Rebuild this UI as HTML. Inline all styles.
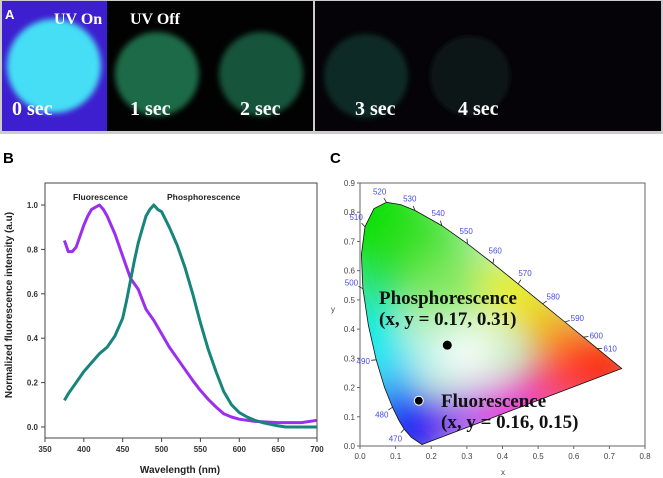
<!DOCTYPE html>
<html><head><meta charset="utf-8"><style>
body{margin:0;background:#fff;width:663px;height:478px;overflow:hidden;font-family:"Liberation Sans",Arial,sans-serif}
svg{position:absolute;left:0;top:0}
</style></head><body>
<svg width="663" height="478" viewBox="0 0 663 478">
<defs>
<filter id="blur" x="-50%" y="-50%" width="200%" height="200%"><feGaussianBlur stdDeviation="3"/></filter>
<filter id="bigblur" x="-50%" y="-50%" width="200%" height="200%"><feGaussianBlur stdDeviation="20"/></filter>
<clipPath id="gamutClip"><path id="gclip"/></clipPath>
</defs>
<g>
<rect x="0" y="0" width="663" height="134" fill="#ccc"/>
<rect x="2" y="1" width="105" height="130" fill="#3d1fcf"/>
<rect x="107" y="1" width="206" height="130" fill="#020202"/>
<rect x="315" y="1" width="346" height="130" fill="#050307"/>
<circle cx="54" cy="66" r="47" fill="#45def5" filter="url(#blur)"/>
<circle cx="157" cy="74" r="42" fill="#1d6a46" filter="url(#blur)"/>
<circle cx="261" cy="74" r="42" fill="#16543a" filter="url(#blur)"/>
<circle cx="366" cy="76" r="42" fill="#102a26" filter="url(#blur)"/>
<circle cx="470" cy="76" r="40" fill="#0c1817" filter="url(#blur)"/>
<g font-family="Liberation Serif,serif" font-weight="bold" fill="#fff">
<text x="5" y="19" font-family="Liberation Sans,sans-serif" font-size="13">A</text>
<text x="54" y="24" font-size="16">UV On</text>
<text x="130" y="24" font-size="16">UV Off</text>
<text x="12" y="115" font-size="20">0 sec</text>
<text x="130" y="115" font-size="20">1 sec</text>
<text x="240" y="115" font-size="20">2 sec</text>
<text x="355" y="115" font-size="20">3 sec</text>
<text x="458" y="115" font-size="20">4 sec</text>
</g>
</g>
<g id="panelB">
<text x="3" y="163" font-size="15" font-weight="bold">B</text>
<rect x="45" y="183" width="272" height="255" fill="none" stroke="#444" stroke-width="1"/>
<text x="73" y="200" font-size="8.5" font-weight="bold" fill="#222">Fluorescence</text>
<text x="167" y="200" font-size="8.5" font-weight="bold" fill="#222">Phosphorescence</text>
<text x="180" y="473" font-size="10" font-weight="bold" fill="#222" text-anchor="middle">Wavelength (nm)</text>
<text transform="translate(12,305) rotate(-90)" font-size="10" font-weight="bold" fill="#222" text-anchor="middle">Normalized fluorescence intensity (a.u)</text>
</g>
<g id="panelC">
<text x="330" y="163" font-size="15" font-weight="bold">C</text>
<g clip-path="url(#gamutClip)">
<rect x="360" y="183" width="285" height="263" fill="#c0f0c0"/>
<g filter="url(#bigblur)" id="blobs"></g>
</g>
<path id="locus" fill="none" stroke="#111" stroke-width="0.8"/>
<rect x="360" y="183" width="285" height="263" fill="none" stroke="#666" stroke-width="1"/>
<text x="503" y="475" font-size="8" fill="#444" text-anchor="middle">x</text>
<text x="331" y="312" font-size="8" fill="#444">y</text>
<g font-family="Liberation Serif,serif" font-weight="bold" fill="#111">
<text x="379" y="304" font-size="19">Phosphorescence</text>
<text x="379" y="325" font-size="19">(x, y = 0.17, 0.31)</text>
<text x="441" y="407" font-size="19">Fluorescence</text>
<text x="441" y="428" font-size="19">(x, y = 0.16, 0.15)</text>
</g>
</g>
</svg>
<script>
const NS='http://www.w3.org/2000/svg';
function mk(tag,attrs,parent){const e=document.createElementNS(NS,tag);for(const k in attrs)e.setAttribute(k,attrs[k]);parent.appendChild(e);return e;}
const xTicksB=[350,400,450,500,550,600,650,700];
const yTicksB=[0.0,0.2,0.4,0.6,0.8,1.0];
const fluorWl=[375,380,385,390,395,400,405,410,415,420,425,430,440,450,460,470,480,490,500,510,520,530,540,550,560,570,580,590,600,620,650,680,700];
const fluorVal=[0.84,0.79,0.79,0.81,0.86,0.91,0.95,0.98,0.99,1.0,0.98,0.95,0.87,0.77,0.67,0.62,0.53,0.48,0.42,0.36,0.31,0.26,0.21,0.165,0.125,0.09,0.06,0.045,0.035,0.025,0.02,0.02,0.03];
const phosWl=[375,380,390,400,410,420,430,440,450,455,460,465,470,475,480,485,490,495,500,510,520,530,540,550,560,570,580,590,600,610,620,630,650,660,700];
const phosVal=[0.12,0.15,0.2,0.25,0.29,0.33,0.36,0.41,0.49,0.57,0.66,0.75,0.83,0.89,0.95,0.98,1.0,0.98,0.97,0.9,0.82,0.72,0.6,0.47,0.35,0.25,0.16,0.1,0.065,0.045,0.03,0.02,0.005,0.0,0.0];
const bx=v=>45+(v-350)/350*272, by=v=>427-v*222;
const gB=document.getElementById('panelB');
xTicksB.forEach(t=>{mk('line',{x1:bx(t),x2:bx(t),y1:438,y2:442,stroke:'#444'},gB);
 const tx=mk('text',{x:bx(t),y:452,'font-size':8,'font-weight':'bold','text-anchor':'middle',fill:'#333'},gB);tx.textContent=t;
 
 });
yTicksB.forEach(t=>{mk('line',{x1:41,x2:45,y1:by(t),y2:by(t),stroke:'#444'},gB);
 const tx=mk('text',{x:38,y:by(t)+3,'font-size':8,'font-weight':'bold','text-anchor':'end',fill:'#333'},gB);tx.textContent=t.toFixed(1);
 
 });
function line(xs,ys,col,name){const d=xs.map((x,i)=>(i?'L':'M')+bx(x).toFixed(1)+','+by(ys[i]).toFixed(1)).join('');
 const p=mk('path',{d:d,fill:'none',stroke:col,'stroke-width':3,'stroke-linejoin':'round'},gB);
 
 }
line(fluorWl,fluorVal,'#9b2ff0','fluorescence-line');
line(phosWl,phosVal,'#17857c','phosphorescence-line');
const xTicksC=[0.0,0.1,0.2,0.3,0.4,0.5,0.6,0.7,0.8];
const yTicksC=[0.0,0.1,0.2,0.3,0.4,0.5,0.6,0.7,0.8,0.9];
const locusWl=[380,460,470,475,480,485,490,495,500,505,510,515,520,525,530,540,550,560,570,580,590,600,610,620,640,700];
const locusX=[0.1741,0.144,0.1241,0.1096,0.0913,0.0687,0.0454,0.0235,0.0082,0.0039,0.0139,0.0389,0.0743,0.1142,0.1547,0.2296,0.3016,0.3731,0.4441,0.5125,0.5752,0.627,0.6658,0.6915,0.719,0.7347];
const locusY=[0.005,0.0297,0.0578,0.0868,0.1327,0.2007,0.295,0.4127,0.5384,0.6548,0.7502,0.812,0.8338,0.8262,0.8059,0.7543,0.6923,0.6245,0.5547,0.4866,0.4242,0.3725,0.334,0.3083,0.2809,0.2653];
const labelWl=[470,480,490,500,510,520,530,540,550,560,570,580,590,600,610];
const pointX=[0.245,0.165];
const pointY=[0.345,0.155];
const cx=v=>360+v/0.8*285, cy=v=>446-v/0.9*263;
const gC=document.getElementById('panelC');
const d='M'+locusX.map((x,i)=>cx(x).toFixed(1)+','+cy(locusY[i]).toFixed(1)).join('L')+'Z';
document.getElementById('locus').setAttribute('d',d);
document.getElementById('gclip').setAttribute('d',d);
const blobs=document.getElementById('blobs');
[[0.06,0.75,'#00e000',55],[0.18,0.66,'#30e020',45],[0.25,0.55,'#80e860',35],[0.03,0.5,'#00e080',25],[0.02,0.36,'#00f0f0',30],[0.08,0.28,'#00e0ff',25],[0.09,0.15,'#0060ff',25],[0.15,0.05,'#1010f8',35],[0.3,0.1,'#a040f8',25],[0.42,0.12,'#f020e0',30],[0.55,0.2,'#ff2060',28],[0.68,0.27,'#ff0000',35],[0.58,0.34,'#ff5010',28],[0.42,0.52,'#f0f000',30],[0.52,0.43,'#ffb000',22],[0.3,0.32,'#ffffff',30],[0.2,0.3,'#c0f8ff',18]].forEach(b=>mk('circle',{cx:cx(b[0]),cy:cy(b[1]),r:b[3],fill:b[2]},blobs));
xTicksC.forEach(t=>{mk('line',{x1:cx(t),x2:cx(t),y1:446,y2:449,stroke:'#666'},gC);
 const tx=mk('text',{x:cx(t),y:459,'font-size':8,'text-anchor':'middle',fill:'#444'},gC);tx.textContent=t.toFixed(1);
 
 });
yTicksC.forEach(t=>{mk('line',{x1:357,x2:360,y1:cy(t),y2:cy(t),stroke:'#666'},gC);
 const tx=mk('text',{x:355,y:cy(t)+3,'font-size':8,'text-anchor':'end',fill:'#444'},gC);tx.textContent=t.toFixed(1);
 
 });
labelWl.forEach(w=>{let i=locusWl.findIndex(v=>v>=w);let x,y;if(locusWl[i]===w){x=locusX[i];y=locusY[i];}else{const f=(w-locusWl[i-1])/(locusWl[i]-locusWl[i-1]);x=locusX[i-1]+f*(locusX[i]-locusX[i-1]);y=locusY[i-1]+f*(locusY[i]-locusY[i-1]);}
 const px=cx(x),py=cy(y);const dx=px-cx(0.33),dy=py-cy(0.33);const L=Math.hypot(dx,dy);
 mk('line',{x1:px,y1:py,x2:px+dx/L*5,y2:py+dy/L*5,stroke:'#222','stroke-width':0.8},gC);
 const tx=mk('text',{x:px+dx/L*13,y:py+dy/L*13+3,'font-size':8,'text-anchor':'middle',fill:'#4a4ae0'},gC);tx.textContent=w;
 
 });
pointX.forEach((x,i)=>{const c=mk('circle',{cx:cx(x),cy:cy(pointY[i]),r:4.5,fill:'#000',stroke:i?'#fff':'none','stroke-width':1},gC);
 
 });
</script>
</body></html>
